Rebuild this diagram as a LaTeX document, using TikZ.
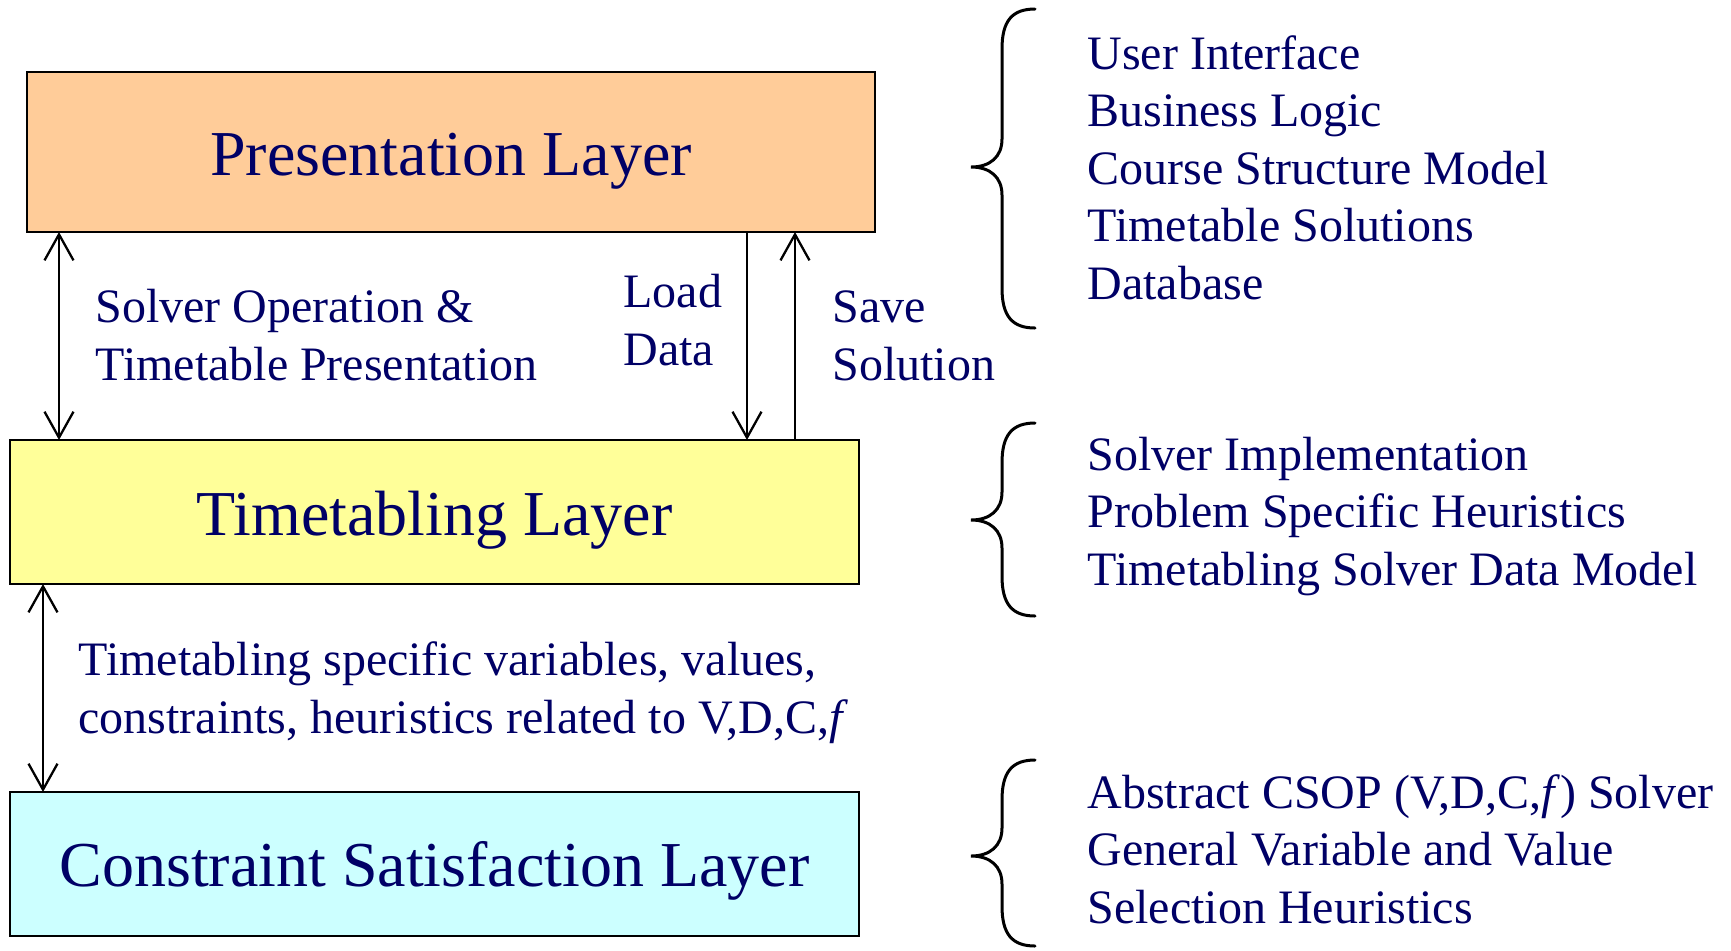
\documentclass[tikz,border=0pt]{standalone}
\usepackage{fontspec}
\setmainfont{Liberation Serif}
\usetikzlibrary{arrows.meta,calc}
\definecolor{navy}{RGB}{0,0,102}
\definecolor{peach}{RGB}{255,204,153}
\definecolor{lyellow}{RGB}{255,255,153}
\definecolor{lcyan}{RGB}{204,255,255}
\newcommand{\drawbrace}[3]{%
  \draw[brc] (1035,#1) .. controls (1012,#1) and (1002,#1+12) .. (1002,#1+40)
    -- (1002,#2-28) .. controls (1002,#2-10) and (990,#2) .. (971,#2)
    .. controls (990,#2) and (1002,#2+10) .. (1002,#2+28)
    -- (1002,#3-40) .. controls (1002,#3-12) and (1012,#3) .. (1035,#3);}
\begin{document}
\begin{tikzpicture}[x=0.5pt,y=-0.5pt,
  layer/.style={draw, line width=1pt, inner sep=0pt, outer sep=0pt},
  title/.style={inner sep=0pt, text=navy, font=\fontsize{32}{38}\selectfont},
  lbl/.style={inner sep=0pt, text=navy, align=left, font=\fontsize{24}{28.75}\selectfont},
  one/.style={line width=1.15pt, -{Straight Barb[length=13pt,width=14.5pt]}},
  dbl/.style={line width=1.15pt, {Straight Barb[length=13pt,width=14.5pt]}-{Straight Barb[length=13pt,width=14.5pt]}},
  brc/.style={line width=1.5pt, line cap=round}]
\useasboundingbox (0,0) rectangle (1731,950);
\fill[white] (0,0) rectangle (1731,950);

% layers
\node[layer, fill=peach, minimum width=424pt, minimum height=80pt] (pres) at (451,152) {};
\node[layer, fill=lyellow, minimum width=424.5pt, minimum height=72pt] (tt) at (434.5,512) {};
\node[layer, fill=lcyan, minimum width=424.5pt, minimum height=72pt] (csl) at (434.5,864) {};

\node[title, anchor=base] (ptitle) at (451,175) {Presentation Layer};
\node[title, anchor=base] (ttitle) at (434.5,535) {Timetabling Layer};
\node[title, anchor=base] (ctitle) at (434.5,886) {Constraint Satisfaction Layer};

% connectors
\coordinate (a1) at (59,0);
\coordinate (a2) at (747,0);
\coordinate (a3) at (795,0);
\coordinate (a4) at (43,0);
\draw[dbl] (pres.south -| a1) -- (tt.north -| a1);
\draw[one] (pres.south -| a2) -- (tt.north -| a2);
\draw[one] (tt.north -| a3) -- (pres.south -| a3);
\draw[dbl] (tt.south -| a4) -- (csl.north -| a4);

% connector labels
\node[lbl, anchor=base west] (l1) at (95,380) {Solver Operation \&\\Timetable Presentation};
\node[lbl, anchor=base west] (l2) at (623,365) {Load\\Data};
\node[lbl, anchor=base west] (l3) at (832,380) {Save\\Solution};
\node[lbl, anchor=base west] (l4) at (78,733) {Timetabling specific variables, values,\\constraints, heuristics related to V,D,C,\textit{f}};

% braces
\drawbrace{9}{167}{328}
\drawbrace{423}{520}{616}
\drawbrace{760}{856}{946}

% right lists
\node[lbl, anchor=base west] (r1) at (1087,299) {User Interface\\Business Logic\\Course Structure Model\\Timetable Solutions\\Database};
\node[lbl, anchor=base west] (r2) at (1087,585) {Solver Implementation\\Problem Specific Heuristics\\Timetabling Solver Data Model};
\node[lbl, anchor=base west] (r3) at (1087,923) {Abstract CSOP (V,D,C,\textit{f}) Solver\\General Variable and Value\\Selection Heuristics};
\end{tikzpicture}
\end{document}
